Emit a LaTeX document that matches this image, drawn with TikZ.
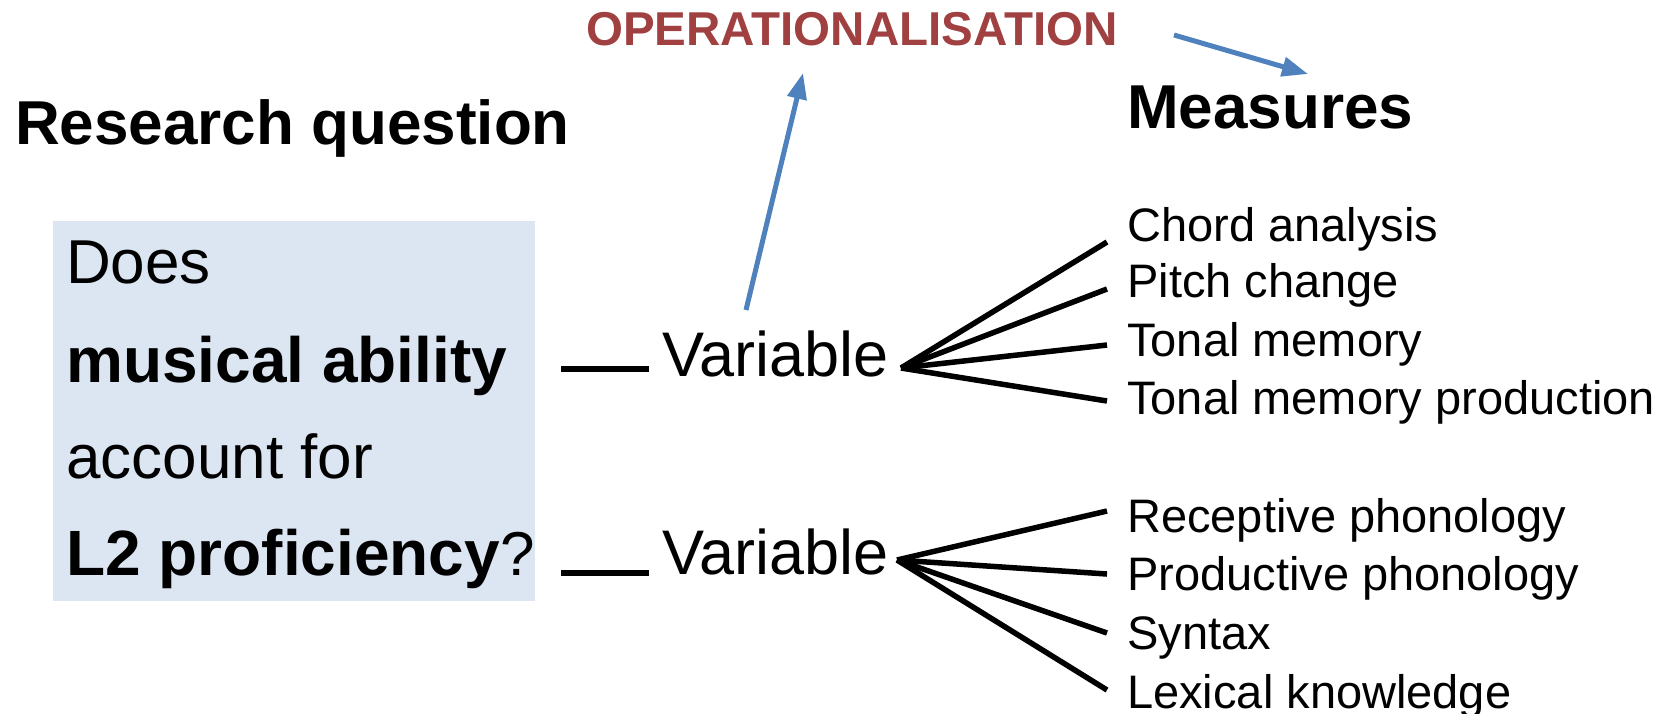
\documentclass[tikz,border=0pt]{standalone}
\usepackage{fontspec}
\setmainfont{Liberation Sans}
\usetikzlibrary{arrows.meta}
\definecolor{opred}{RGB}{160,64,64}
\definecolor{boxblue}{RGB}{220,230,242}
\definecolor{arrblue}{RGB}{79,129,189}
\begin{document}
\begin{tikzpicture}[x=1pt,y=-1pt,
  txt/.style={inner sep=0pt, anchor=base west},
  qtext/.style={txt, font=\fontsize{62}{62}\selectfont},
  vartext/.style={txt, font=\fontsize{63}{63}\selectfont},
  headtext/.style={txt, font=\fontsize{62}{62}\selectfont\bfseries},
  optext/.style={txt, font=\fontsize{47.5}{47.5}\selectfont\bfseries, text=opred},
  meastext/.style={txt, font=\fontsize{47}{47}\selectfont},
  conn/.style={line width=5.5pt, black},
  barrow/.style={line width=5pt, arrblue, -{Triangle[length=26pt,width=19pt]}}]
\newcommand{\qbold}[1]{{\fontsize{64}{64}\selectfont\bfseries #1}}
\useasboundingbox (0,0) rectangle (1677,713);
% question box
\node[fill=boxblue, inner sep=0pt, minimum width=482pt, minimum height=380pt, anchor=north west] (qbox) at (53,221) {};
\node[qtext] (q1) at (66,283) {Does};
\node[qtext] (q2) at (66,382) {\qbold{musical ability}};
\node[qtext] (q3) at (66,478) {account for};
\node[qtext] (q4) at (66,575) {\qbold{L2 proficiency}?};
% headings
\node[headtext] (rq) at (15,144) {Research question};
\node[headtext] (meas) at (1127,128) {Measures};
\node[optext] (op) at (586,45) {OPERATIONALISATION};
% variables
\node[vartext] (v1) at (662,376) {Variable};
\node[vartext] (v2) at (662,574) {Variable};
% measures
\node[meastext] (m1) at (1127,241) {Chord analysis};
\node[meastext] (m2) at (1127,297) {Pitch change};
\node[meastext] (m3) at (1127,356) {Tonal memory};
\node[meastext] (m4) at (1127,414) {Tonal memory production};
\node[meastext] (m5) at (1127,532) {Receptive phonology};
\node[meastext] (m6) at (1127,590) {Productive phonology};
\node[meastext] (m7) at (1127,649) {Syntax};
\node[meastext] (m8) at (1127,708) {Lexical knowledge};
% connector coordinates
\coordinate (l1s) at (561,369); \coordinate (l1e) at (649,369);
\coordinate (l2s) at (561,573); \coordinate (l2e) at (649,573);
\coordinate (f1) at (901,368);
\coordinate (f2) at (897,560);
\coordinate (e1) at (1107,242); \coordinate (e2) at (1107,289);
\coordinate (e3) at (1107,345); \coordinate (e4) at (1107,401);
\coordinate (e5) at (1107,511); \coordinate (e6) at (1107,574);
\coordinate (e7) at (1107,633); \coordinate (e8) at (1107,690);
\coordinate (a1s) at (746,310); \coordinate (a1e) at (803,73);
\coordinate (a2s) at (1174,35); \coordinate (a2e) at (1308,74);
% connectors
\draw[conn] (l1s) -- (l1e);
\draw[conn] (l2s) -- (l2e);
\foreach \e in {e1,e2,e3,e4} \draw[conn] (f1) -- (\e);
\foreach \e in {e5,e6,e7,e8} \draw[conn] (f2) -- (\e);
\draw[barrow] (a1s) -- (a1e);
\draw[barrow] (a2s) -- (a2e);
\end{tikzpicture}
\end{document}
